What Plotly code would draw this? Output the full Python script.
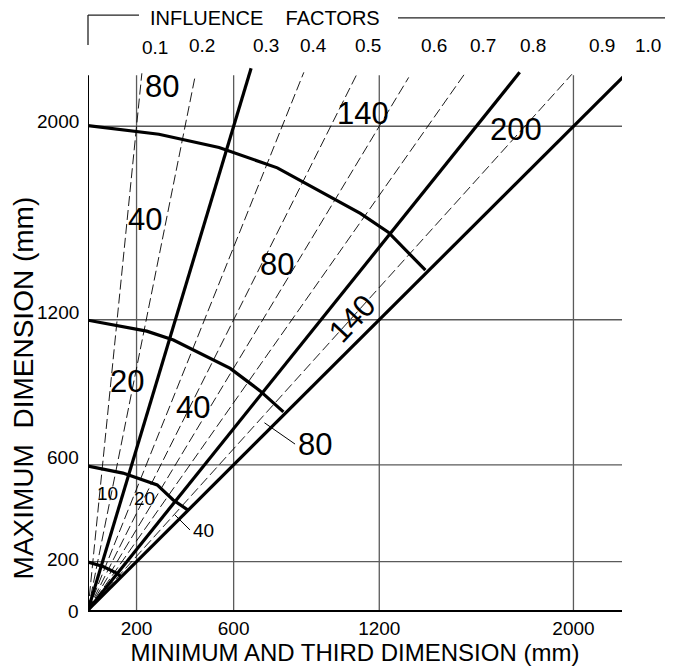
import plotly.graph_objects as go

# ---------------- data ----------------
INFLUENCE_FACTORS = [0.1, 0.2, 0.3, 0.4, 0.5, 0.6, 0.7, 0.8, 0.9, 1.0]
FACTOR_LABELS = ["0.1", "0.2", "0.3", "0.4", "0.5", "0.6", "0.7", "0.8", "0.9", "1.0"]
THICK_FACTORS = [0.3, 0.8, 1.0]
RAY_TOP_Y = [2219, 2211, 2240, 2223, 2211, 2202, 2219, 2223, 2215, 2215]

X_TICKS = [200, 600, 1200, 2000]
Y_TICKS = [0, 200, 600, 1200, 2000]

CURVE_200_X = [0, 62, 118, 138]
CURVE_200_Y = [198, 180, 153, 136]
CURVE_600_X = [0, 144, 285, 351, 412]
CURVE_600_Y = [595, 566, 517, 455, 413]
CURVE_1200_X = [0, 242, 352, 586, 668, 709, 805]
CURVE_1200_Y = [1198, 1153, 1116, 999, 937, 906, 819]
CURVE_2000_X = [0, 292, 540, 780, 1122, 1237, 1390]
CURVE_2000_Y = [2003, 1967, 1912, 1828, 1640, 1562, 1405]

REGION_VALUES = ["80", "140", "200", "40", "80", "140", "20", "40", "80", "10", "20", "40"]
REGION_X = [303, 1133, 1763, 233, 779, 1088, 161, 433, 937, 80, 231, 476]
REGION_Y = [2165, 2052, 1986, 1614, 1428, 1207, 946, 837, 684, 483, 461, 329]

LEADER_80_X = [727, 853]
LEADER_80_Y = [774, 686]
LEADER_40_X = [358, 420]
LEADER_40_Y = [393, 331]

# ---------------- styling / layout constants ----------------
FONT = "Liberation Sans, Arial, Helvetica, sans-serif"
X_MAX = 2200
Y_MAX = 2245
GRID_TOP = 2211
LABEL_Y = 2335
LABEL_XSHIFT = [10, 1, 8, -1, -3, 6, -2, -8, 4, -7]
LABEL_YSHIFT = [-2, 0, 0, 0, 0, 0, 0, 0, 0, 0]
YTICK_YSHIFT = [-1, 2, 7, 7, 5]
REGION_SIZES = [31, 31, 31, 31, 31, 31, 31, 31, 31, 19, 19, 19]
REGION_ANGLES = [0, 0, 0, 0, 0, -47, 0, 0, 0, 0, 0, 0]

fig = go.Figure()

# rays
for r, top in zip(INFLUENCE_FACTORS, RAY_TOP_Y):
    thick = r in THICK_FACTORS
    fig.add_trace(go.Scatter(
        x=[0, r * top], y=[0, top], mode="lines",
        line=dict(color="black", width=3.2 if thick else 0.9,
                  dash="solid" if thick else "10px,4px"),
        hoverinfo="skip", showlegend=False))

# curves
for cx, cy in [(CURVE_200_X, CURVE_200_Y), (CURVE_600_X, CURVE_600_Y),
               (CURVE_1200_X, CURVE_1200_Y), (CURVE_2000_X, CURVE_2000_Y)]:
    fig.add_trace(go.Scatter(x=cx, y=cy, mode="lines",
                             line=dict(color="black", width=3.2),
                             hoverinfo="skip", showlegend=False))

# leader lines
for lx, ly in [(LEADER_80_X, LEADER_80_Y), (LEADER_40_X, LEADER_40_Y)]:
    fig.add_trace(go.Scatter(x=lx, y=ly, mode="lines",
                             line=dict(color="black", width=1),
                             hoverinfo="skip", showlegend=False))

shapes = []
for v in X_TICKS:
    shapes.append(dict(type="line", xref="x", yref="y", x0=v, x1=v, y0=0, y1=GRID_TOP,
                       line=dict(color="#5a5a5a", width=1.3), layer="below"))
for v in Y_TICKS[1:]:
    shapes.append(dict(type="line", xref="x", yref="y", x0=0, x1=X_MAX, y0=v, y1=v,
                       line=dict(color="#5a5a5a", width=1.3), layer="below"))
# y axis line
shapes.append(dict(type="line", xref="x", yref="y", x0=0, x1=0, y0=0, y1=GRID_TOP,
                   line=dict(color="black", width=2)))
# header bracket
shapes.append(dict(type="line", xref="paper", yref="paper", x0=0, x1=0, y0=1.0957, y1=1.0405,
                   line=dict(color="#222", width=1.3)))
shapes.append(dict(type="line", xref="paper", yref="paper", x0=0, x1=0.0955, y0=1.0957, y1=1.0957,
                   line=dict(color="#222", width=1.3)))
shapes.append(dict(type="line", xref="paper", yref="paper", x0=0.5805, x1=1.088, y0=1.0905, y1=1.0905,
                   line=dict(color="#222", width=1.3)))

annotations = []
for t, x, y, s, a in zip(REGION_VALUES, REGION_X, REGION_Y, REGION_SIZES, REGION_ANGLES):
    annotations.append(dict(text=t, x=x, y=y, xref="x", yref="y", showarrow=False,
                            font=dict(size=s, color="black", family=FONT), textangle=a,
                            xanchor="center", yanchor="middle"))
for r, lab, dx, dy in zip(INFLUENCE_FACTORS, FACTOR_LABELS, LABEL_XSHIFT, LABEL_YSHIFT):
    annotations.append(dict(text=lab, x=r * LABEL_Y / X_MAX, y=LABEL_Y / Y_MAX,
                            xref="paper", yref="paper", xshift=dx, yshift=dy,
                            showarrow=False, font=dict(size=19, color="black", family=FONT),
                            xanchor="center", yanchor="middle"))
# y tick labels (sit slightly above their grid lines, as in the original)
for v, dy in zip(Y_TICKS, YTICK_YSHIFT):
    annotations.append(dict(text=str(v), x=0, y=v, xref="x", yref="y", xshift=-7, yshift=dy,
                            showarrow=False, font=dict(size=19, color="black", family=FONT),
                            xanchor="right", yanchor="middle"))
annotations.append(dict(text="INFLUENCE\u00a0\u00a0\u00a0\u00a0FACTORS", x=0.3315, y=1.09,
                        xref="paper", yref="paper", showarrow=False,
                        font=dict(size=20, color="black", family=FONT),
                        xanchor="center", yanchor="middle"))
annotations.append(dict(text="MAXIMUM\u00a0\u00a0DIMENSION (mm)", x=-0.1208, y=0.409,
                        xref="paper", yref="paper", showarrow=False, textangle=-90,
                        font=dict(size=28, color="black", family=FONT),
                        xanchor="center", yanchor="middle"))

fig.update_layout(
    width=665, height=661,
    margin=dict(l=80, r=51, t=59, b=59, autoexpand=False),
    paper_bgcolor="white", plot_bgcolor="white",
    font=dict(family=FONT, color="black"),
    xaxis=dict(range=[0, X_MAX], tickvals=X_TICKS, ticktext=[str(v) for v in X_TICKS],
               showgrid=False, zeroline=False, showline=True, linecolor="black",
               linewidth=2, ticks="", tickfont=dict(size=19), automargin=False,
               title=dict(text="MINIMUM AND THIRD DIMENSION (mm)",
                          font=dict(size=24), standoff=2)),
    yaxis=dict(range=[0, Y_MAX], tickvals=Y_TICKS, showticklabels=False,
               showgrid=False, zeroline=False, showline=False, ticks="", automargin=False),
    shapes=shapes, annotations=annotations,
)

fig.write_html("out.html")
